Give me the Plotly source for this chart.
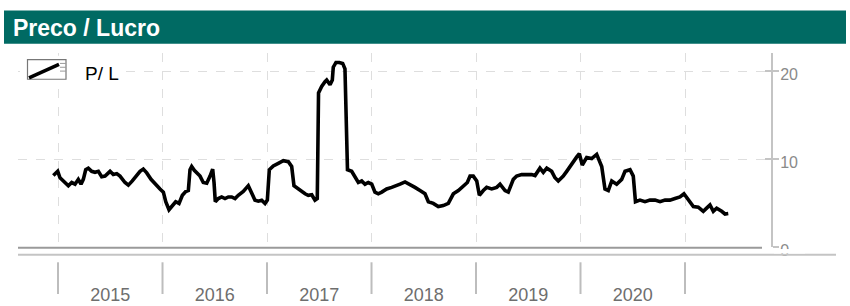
import plotly.graph_objects as go

# ---- data ----
years = [2015, 2016, 2017, 2018, 2019, 2020]
year_labels = ["2015", "2016", "2017", "2018", "2019", "2020"]
year_bounds = [2015, 2016, 2017, 2018, 2019, 2020, 2021]
y_ticks = [0, 10, 20]
y_tick_labels = ["0", "10", "20"]
series_name = "P/ L"
title_text = "Preco / Lucro"

# time as decimal years
t = [
    2014.955, 2014.997, 2015.019, 2015.051, 2015.099, 2015.131, 2015.163, 2015.194, 2015.220, 2015.242,
    2015.265, 2015.290, 2015.322, 2015.354, 2015.386, 2015.418, 2015.450, 2015.498, 2015.529, 2015.562,
    2015.593, 2015.641, 2015.673, 2015.711, 2015.753, 2015.785, 2015.816, 2015.849, 2015.890, 2015.928,
    2015.976, 2016.008, 2016.031, 2016.062, 2016.088, 2016.126, 2016.158, 2016.190, 2016.222, 2016.247,
    2016.263, 2016.279, 2016.304, 2016.327, 2016.359, 2016.390, 2016.423, 2016.455, 2016.480, 2016.493,
    2016.505, 2016.534, 2016.566, 2016.598, 2016.630, 2016.662, 2016.694, 2016.725, 2016.773, 2016.821,
    2016.854, 2016.885, 2016.917, 2016.949, 2016.981, 2017.003, 2017.022, 2017.060, 2017.108, 2017.156,
    2017.204, 2017.236, 2017.258, 2017.300, 2017.332, 2017.364, 2017.395, 2017.428, 2017.459, 2017.481,
    2017.493, 2017.523, 2017.555, 2017.571, 2017.603, 2017.625, 2017.634, 2017.660, 2017.692, 2017.724,
    2017.746, 2017.770, 2017.810, 2017.842, 2017.874, 2017.906, 2017.938, 2017.969, 2018.002, 2018.033,
    2018.065, 2018.098, 2018.145, 2018.193, 2018.241, 2018.273, 2018.321, 2018.368, 2018.416, 2018.464,
    2018.512, 2018.544, 2018.591, 2018.639, 2018.687, 2018.735, 2018.783, 2018.831, 2018.878, 2018.917,
    2018.943, 2018.974, 2019.007, 2019.032, 2019.070, 2019.102, 2019.150, 2019.198, 2019.230, 2019.278,
    2019.309, 2019.357, 2019.389, 2019.437, 2019.485, 2019.533, 2019.565, 2019.612, 2019.644, 2019.677,
    2019.724, 2019.756, 2019.787, 2019.835, 2019.868, 2019.916, 2019.964, 2019.989, 2020.017, 2020.059,
    2020.107, 2020.155, 2020.203, 2020.234, 2020.266, 2020.299, 2020.346, 2020.394, 2020.426, 2020.474,
    2020.505, 2020.526, 2020.569, 2020.617, 2020.665, 2020.713, 2020.761, 2020.809, 2020.856, 2020.904,
    2020.952, 2020.990, 2021.032, 2021.080, 2021.127, 2021.175, 2021.207, 2021.239, 2021.271, 2021.303,
    2021.351, 2021.383, 2021.414,
]

pl = [
    8.15, 8.63, 7.90, 7.54, 7.00, 7.36, 7.17, 7.72, 7.17, 7.72,
    8.81, 8.99, 8.63, 8.52, 8.63, 8.01, 8.09, 8.63, 8.26, 8.37,
    8.09, 7.36, 7.06, 7.54, 8.26, 8.63, 8.88, 8.45, 7.72, 7.17,
    6.63, 6.27, 5.18, 4.27, 4.63, 5.18, 4.99, 5.91, 6.34, 6.45,
    8.81, 9.18, 8.74, 8.52, 8.09, 7.36, 7.28, 8.09, 8.88, 7.36,
    5.18, 5.54, 5.72, 5.54, 5.72, 5.72, 5.54, 5.91, 6.34, 7.00,
    6.08, 5.36, 5.25, 5.36, 4.99, 5.36, 8.81, 9.24, 9.54, 9.83,
    9.72, 9.18, 7.00, 6.63, 6.27, 6.08, 5.91, 5.97, 5.36, 5.54,
    17.53, 18.26, 18.80, 18.99, 18.44, 18.99, 20.44, 20.98, 20.98, 20.87,
    20.25, 8.81, 8.63, 7.90, 7.36, 7.54, 7.17, 7.36, 7.17, 6.27,
    6.08, 6.27, 6.63, 6.81, 7.00, 7.17, 7.43, 7.17, 6.81, 6.45,
    6.08, 5.18, 4.99, 4.63, 4.74, 4.99, 6.08, 6.45, 7.00, 7.36,
    8.09, 8.09, 7.54, 5.91, 6.45, 6.81, 6.63, 6.81, 7.17, 6.45,
    6.27, 7.72, 8.09, 8.26, 8.26, 8.26, 8.15, 8.99, 8.52, 8.99,
    8.63, 7.90, 7.54, 8.09, 8.63, 9.54, 10.27, 10.63, 9.35, 10.19,
    10.08, 10.55, 9.18, 6.63, 6.45, 7.54, 7.17, 7.72, 8.63, 8.81,
    8.09, 5.18, 5.36, 5.18, 5.36, 5.36, 5.18, 5.36, 5.36, 5.54,
    5.72, 6.08, 5.36, 4.63, 4.56, 4.09, 4.45, 4.82, 4.09, 4.45,
    4.09, 3.79, 3.84,
]

W, H = 850, 306
FONT = "Liberation Sans, Arial, sans-serif"


def px_x(p):
    return p / W


def px_y(p):
    return 1 - p / H


fig = go.Figure()
fig.add_trace(go.Scatter(x=t, y=pl, mode="lines", name=series_name, showlegend=False,
                         hoverinfo="skip", line=dict(color="#000000", width=3.6)))
# helper trace for the inner half of the crossing y ticks
fig.add_trace(go.Scatter(x=[None], y=[None], yaxis="y2", showlegend=False,
                         hoverinfo="skip"))

shapes = [
    # title band
    dict(type="rect", xref="paper", yref="paper", x0=px_x(4), x1=px_x(846),
         y0=px_y(45.5), y1=px_y(11), fillcolor="#006A63", line=dict(width=0), layer="below"),
    # darker baseline
    dict(type="line", xref="paper", yref="paper", x0=px_x(18), x1=px_x(762),
         y0=px_y(257.8), y1=px_y(257.8), line=dict(color="#9a9a9a", width=2), layer="above"),
    # lighter line under it
    dict(type="line", xref="paper", yref="paper", x0=px_x(18), x1=px_x(836),
         y0=px_y(265.2), y1=px_y(265.2), line=dict(color="#c4c4c4", width=2), layer="above"),
    # clip the lower half of the "0" label
    dict(type="rect", xref="paper", yref="paper", x0=px_x(774), x1=px_x(805),
         y0=px_y(263.8), y1=px_y(259.2), fillcolor="#ffffff", line=dict(width=0), layer="above"),
    # legend key: white box, frame and diagonal stroke
    dict(type="rect", xref="paper", yref="paper", x0=px_x(20), x1=px_x(125),
         y0=px_y(88), y1=px_y(58), fillcolor="#ffffff", line=dict(width=0), layer="above"),
    dict(type="rect", xref="paper", yref="paper", x0=px_x(27.5), x1=px_x(66),
         y0=px_y(82.5), y1=px_y(62), fillcolor="#ffffff",
         line=dict(color="#777777", width=1.2), layer="above"),
    dict(type="line", xref="paper", yref="paper", x0=px_x(29), x1=px_x(59),
         y0=px_y(81), y1=px_y(67), line=dict(color="#000000", width=3.6), layer="above"),
]
for yy in (66, 70, 74):
    shapes.append(dict(type="line", xref="paper", yref="paper", x0=px_x(60), x1=px_x(66),
                       y0=px_y(yy), y1=px_y(yy), line=dict(color="#999999", width=1),
                       layer="above"))
for yb in year_bounds:
    shapes.append(dict(type="line", xref="x", yref="paper", x0=yb, x1=yb,
                       y0=px_y(273), y1=px_y(306), line=dict(color="#bdbdbd", width=2)))

yrange = [0, 22.07]
fig.update_layout(
    width=W, height=H, autosize=False,
    margin=dict(l=0, r=0, t=0, b=0),
    paper_bgcolor="white", plot_bgcolor="white",
    font=dict(family=FONT),
    hovermode=False,
    shapes=shapes,
    annotations=[
        dict(text="<b>" + title_text + "</b>", xref="paper", yref="paper",
             x=px_x(11), y=px_y(29), xanchor="left", yanchor="middle",
             showarrow=False, font=dict(family=FONT, size=23, color="white")),
        dict(text=series_name, xref="paper", yref="paper",
             x=px_x(83), y=px_y(76.5), xanchor="left", yanchor="middle",
             showarrow=False, font=dict(family=FONT, size=19, color="#000000")),
    ],
    showlegend=False,
    xaxis=dict(
        domain=[px_x(18), px_x(771)],
        range=[2014.617, 2021.823],
        tickvals=[y + 0.5 for y in years], ticktext=year_labels,
        ticks="", showline=False, zeroline=False, showgrid=False,
        tickfont=dict(size=18, color="#6e6e6e"),
        ticklabelstandoff=35,
        minor=dict(tickvals=year_bounds, showgrid=True, gridcolor="#dedede",
                   griddash="dash", gridwidth=1, ticks=""),
    ),
    yaxis=dict(
        domain=[px_y(257.5), px_y(55)],
        range=yrange, side="right",
        tickvals=y_ticks, ticktext=y_tick_labels,
        showline=True, linecolor="#c4c4c4", linewidth=2,
        ticks="outside", ticklen=6, tickwidth=2, tickcolor="#c4c4c4",
        showgrid=True, gridcolor="#dedede", griddash="dash", gridwidth=1,
        zeroline=False,
        tickfont=dict(size=16, color="#8a8a8a"),
        ticklabelshift=3, ticklabelstandoff=-2,
    ),
    yaxis2=dict(
        overlaying="y", side="right", range=yrange,
        tickvals=y_ticks, showticklabels=False,
        ticks="inside", ticklen=6, tickwidth=2, tickcolor="#c4c4c4",
        showgrid=False, showline=False, zeroline=False,
    ),
)

fig.write_html(
    "out.html",
    config={"displayModeBar": False, "responsive": False, "staticPlot": True},
    post_script="document.body.style.margin='0';document.body.style.overflow='hidden';",
)
